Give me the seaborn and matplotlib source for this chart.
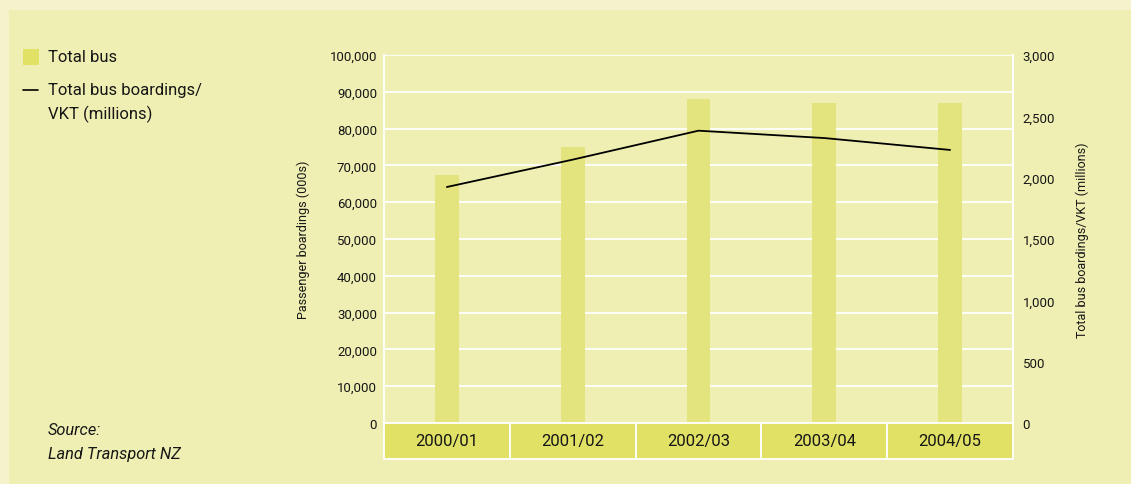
import matplotlib
matplotlib.use("Agg")
import matplotlib.pyplot as plt
from matplotlib.patches import Rectangle
from matplotlib.lines import Line2D
from matplotlib.ticker import FuncFormatter, MultipleLocator
import numpy as np
import pandas as pd
import seaborn as sns

# Bus patronage by financial year
seasons = ["2000/01", "2001/02", "2002/03", "2003/04", "2004/05"]
boardings_000s = [67400, 75000, 88000, 87000, 87000]          # passenger boardings (000s)
boardings_per_vkt = [1924, 2147, 2383, 2323, 2226]             # total bus boardings/VKT (millions)

OUTER = "#f4f3cc"
PANEL = "#f0efb3"
BAR = "#e4e47e"
BOX = "#e1e166"
TEXT = "#161616"

sns.set_theme(style="white")
plt.rcParams["font.family"] = ["Roboto", "DejaVu Sans"]
plt.rcParams["text.color"] = TEXT

W, H = 1131, 485
fig = plt.figure(figsize=(W / 100, H / 100), dpi=100, facecolor=OUTER)


def fx(px):
    return px / W


def fy(py):
    return 1 - py / H


# coloured panel behind everything
fig.patches.append(Rectangle((fx(9), 0), 1 - fx(9), fy(11), transform=fig.transFigure,
                             facecolor=PANEL, edgecolor="none", zorder=-10))

ax = fig.add_axes([fx(384), fy(424), fx(1013) - fx(384), (424 - 56) / H])
ax.set_facecolor(PANEL)

df = pd.DataFrame({"season": seasons, "boardings": boardings_000s, "ratio": boardings_per_vkt})

sns.barplot(data=df, x="season", y="boardings", color=BAR, saturation=1, width=0.19,
            linewidth=0, edgecolor="none", ax=ax, zorder=2)
ax.set_xlim(-0.5, len(seasons) - 0.5)
ax.set_ylim(0, 100000)
ax.yaxis.set_major_locator(MultipleLocator(10000))
ax.yaxis.set_major_formatter(FuncFormatter(lambda v, _: f"{int(v):,}"))
ax.grid(axis="y", color="white", linewidth=1.3, zorder=1)
ax.set_axisbelow(True)
for side in ["top", "bottom"]:
    ax.spines[side].set_visible(False)
for side in ["left", "right"]:
    ax.spines[side].set_color("white")
    ax.spines[side].set_linewidth(1.3)
ax.tick_params(axis="y", length=0, pad=5, labelsize=9.5, labelcolor=TEXT)
ax.tick_params(axis="x", length=0, labelbottom=False)
ax.set_xlabel("")
ax.set_ylabel("Passenger boardings (000s)", fontsize=9, color=TEXT)
ax.yaxis.set_label_coords((310 - 384) / 629, 0.5)

# category strip beneath the plot
box_h = 36 / 368
for i, name in enumerate(seasons):
    ax.add_patch(Rectangle((i - 0.5, -box_h), 1, box_h, transform=ax.get_xaxis_transform(),
                           facecolor=BOX, edgecolor="white", linewidth=1.3, clip_on=False,
                           zorder=3))
    ax.text(i, -box_h / 2, name, transform=ax.get_xaxis_transform(), ha="center",
            va="center", fontsize=12, color=TEXT, zorder=4)

ax2 = ax.twinx()
sns.lineplot(x=np.arange(len(seasons)), y=df["ratio"], color="black", linewidth=1.3,
             ax=ax2, zorder=5)
ax2.set_ylim(0, 3000)
ax2.yaxis.set_major_locator(MultipleLocator(500))
ax2.yaxis.set_major_formatter(FuncFormatter(lambda v, _: f"{int(v):,}"))
ax2.tick_params(axis="y", length=0, pad=7, labelsize=9.5, labelcolor=TEXT)
for side in ["top", "bottom", "left"]:
    ax2.spines[side].set_visible(False)
ax2.spines["right"].set_color("white")
ax2.spines["right"].set_linewidth(1.3)
ax2.set_ylabel("Total bus boardings/VKT (millions)", fontsize=9, color=TEXT)
ax2.yaxis.set_label_coords((1076 - 384) / 629, 0.5)
ax2.grid(False)

# legend
fig.patches.append(Rectangle((fx(23), fy(66)), fx(16), 16 / H, transform=fig.transFigure,
                             facecolor=BOX, edgecolor="none"))
fig.text(fx(48), fy(58), "Total bus", fontsize=12, va="center", ha="left")
fig.lines.append(Line2D([fx(23), fx(38)], [fy(91), fy(91)], transform=fig.transFigure,
                        color="black", linewidth=1.2))
fig.text(fx(48), fy(90), "Total bus boardings/", fontsize=12, va="center", ha="left")
fig.text(fx(48), fy(114), "VKT (millions)", fontsize=12, va="center", ha="left")

# source note
fig.text(fx(48), fy(431), "Source:", fontsize=11.8, style="italic", va="center", ha="left")
fig.text(fx(48), fy(455), "Land Transport NZ", fontsize=11.8, style="italic", va="center",
         ha="left")

fig.savefig("out.png", dpi=100, facecolor=OUTER)
